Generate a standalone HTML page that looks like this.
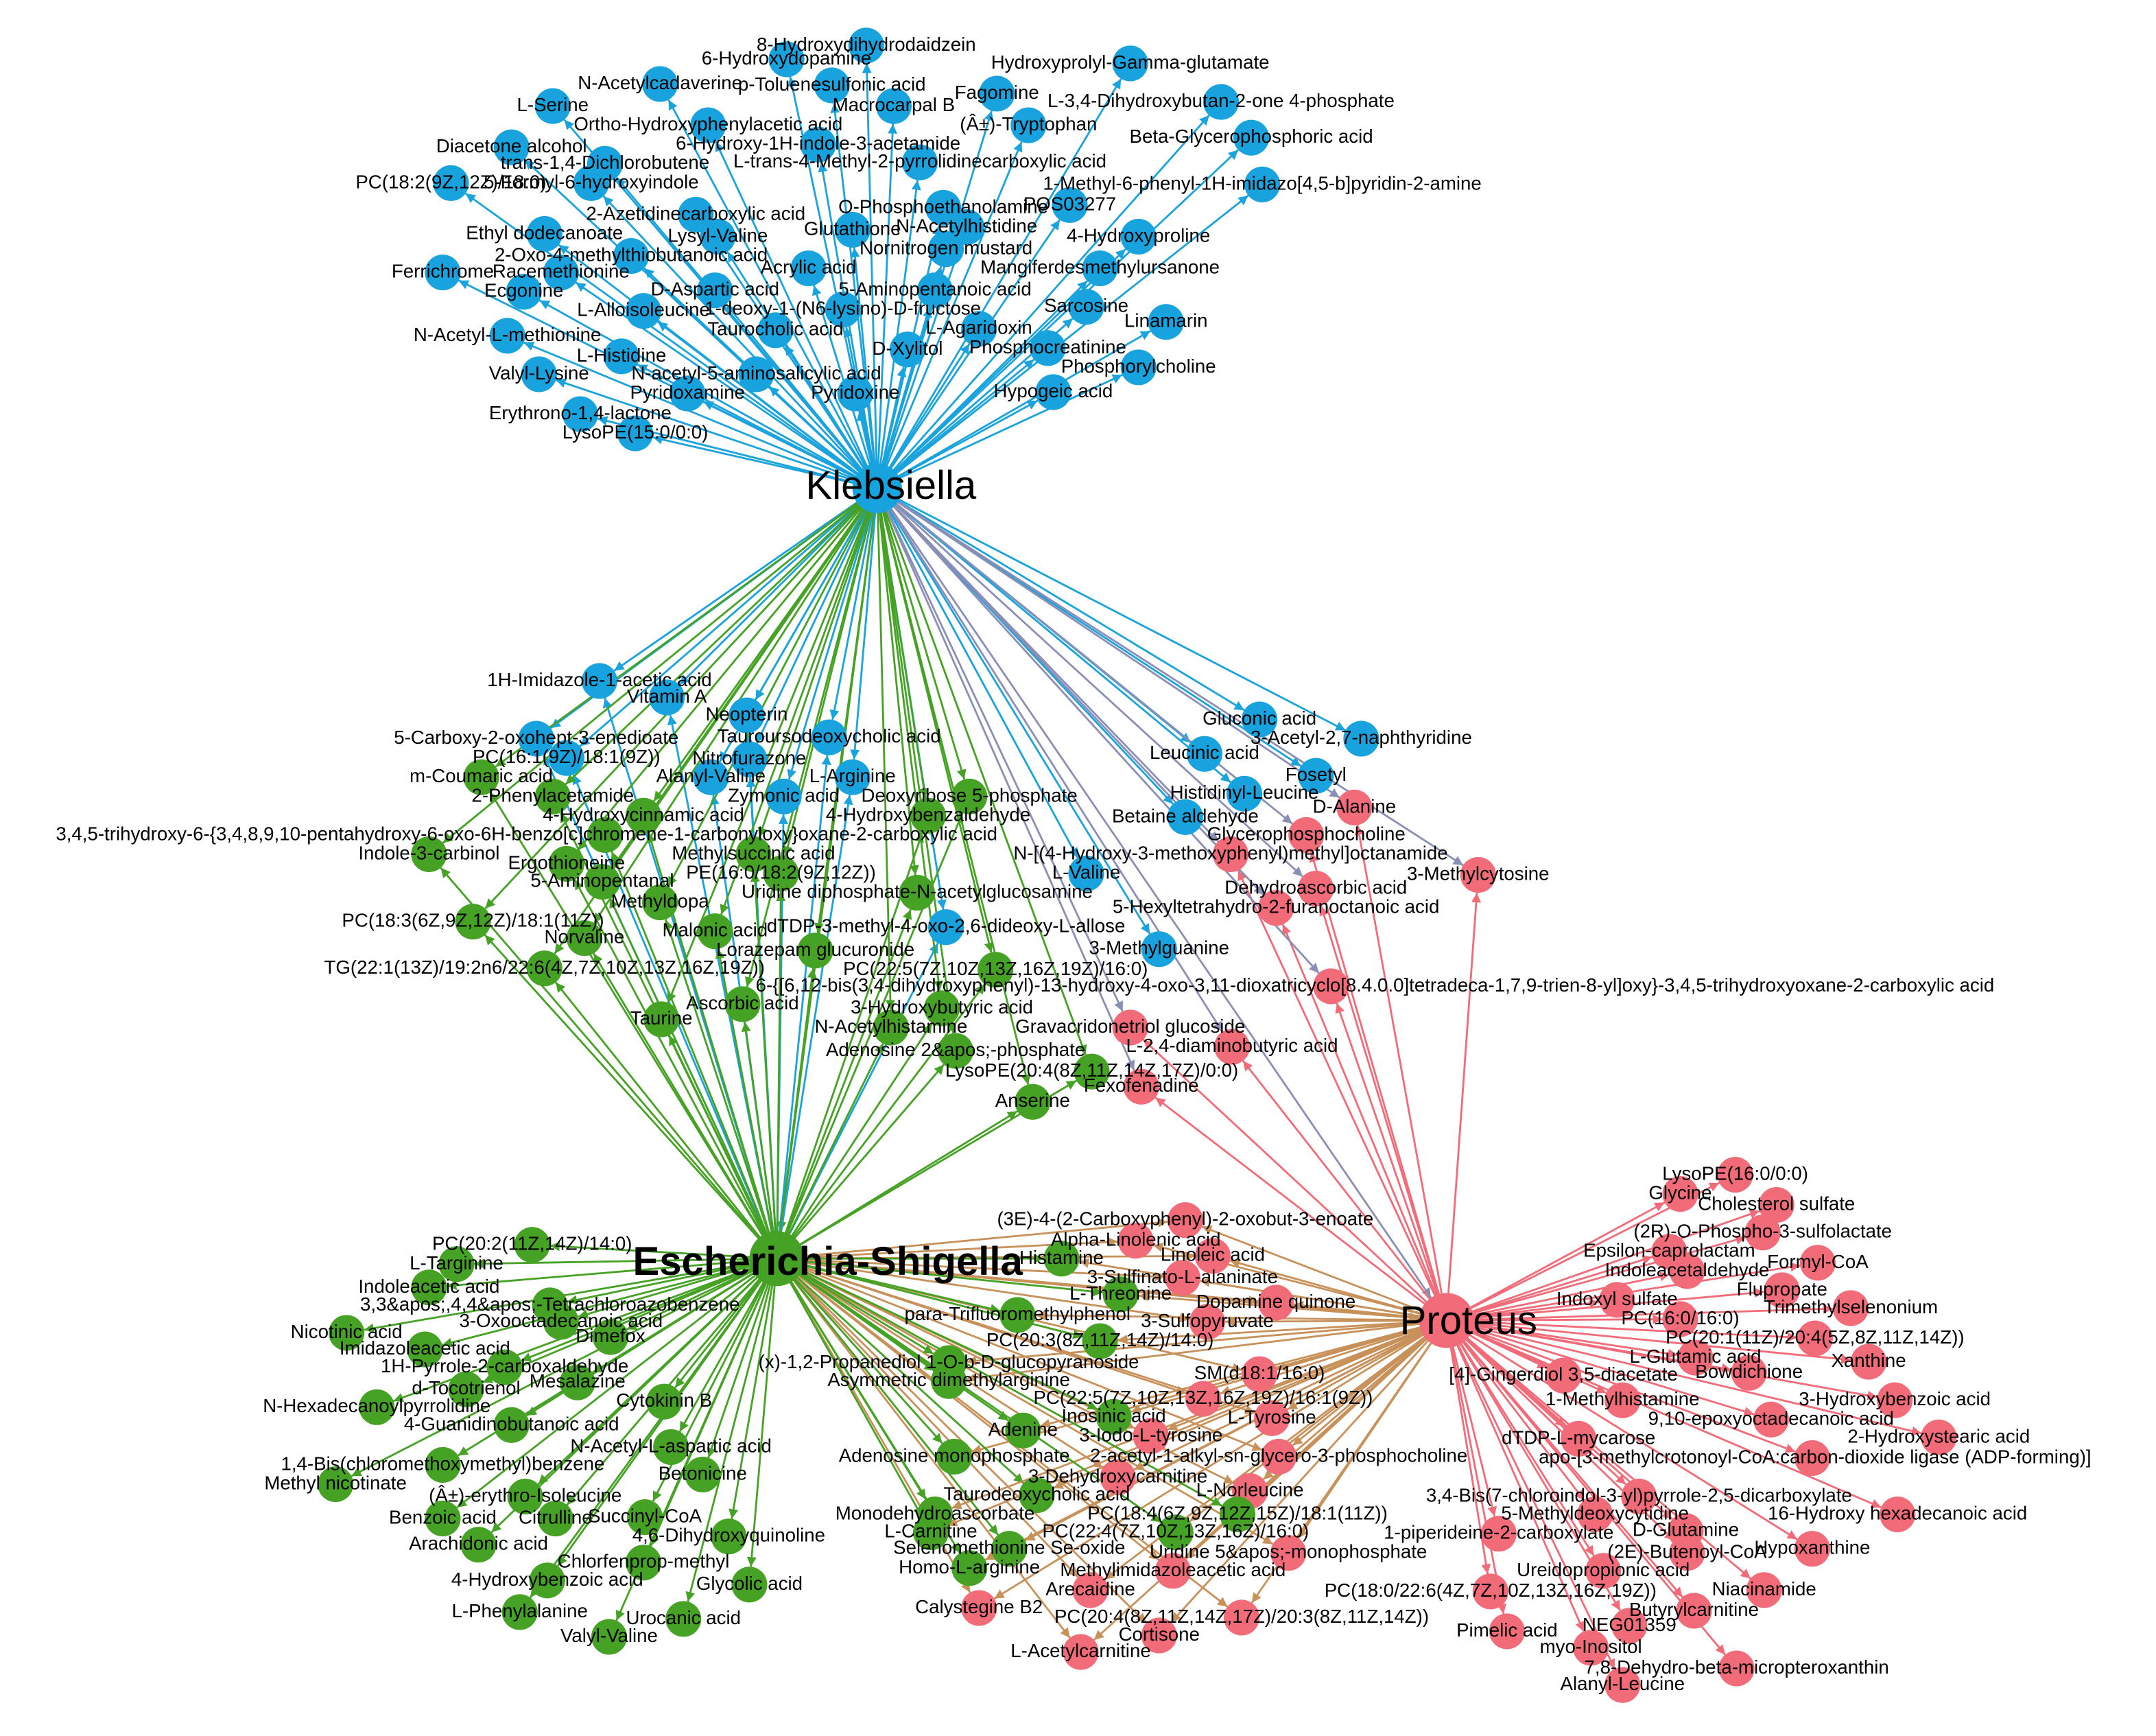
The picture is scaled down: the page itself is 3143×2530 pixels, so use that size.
<!DOCTYPE html>
<html><head><meta charset="utf-8"><style>
html,body{margin:0;padding:0;background:#fff}
svg{display:block}
text{font-family:"Liberation Sans",Arial,sans-serif;font-size:13.8px;fill:#000;text-anchor:middle;dominant-baseline:central}
</style></head><body>
<svg id="s" width="3143" height="2530" viewBox="0 0 1568 1262" xmlns="http://www.w3.org/2000/svg">
<defs>
<marker id="mb" viewBox="0 0 10 10" refX="10" refY="5" markerWidth="5" markerHeight="5" orient="auto"><path d="M0,0L10,5L0,10z" fill="#1aa3dc"/></marker>
<marker id="mg" viewBox="0 0 10 10" refX="10" refY="5" markerWidth="5" markerHeight="5" orient="auto"><path d="M0,0L10,5L0,10z" fill="#45a224"/></marker>
<marker id="mr" viewBox="0 0 10 10" refX="10" refY="5" markerWidth="5" markerHeight="5" orient="auto"><path d="M0,0L10,5L0,10z" fill="#f26b78"/></marker>
<marker id="mo" viewBox="0 0 10 10" refX="10" refY="5" markerWidth="5" markerHeight="5" orient="auto"><path d="M0,0L10,5L0,10z" fill="#c8915a"/></marker>
<marker id="mp" viewBox="0 0 10 10" refX="10" refY="5" markerWidth="5" markerHeight="5" orient="auto"><path d="M0,0L10,5L0,10z" fill="#8a8fb5"/></marker>
</defs>
<g id="E"></g><g id="N"></g><g id="T"></g>
</svg>
<script>
var K=[638,355],ES=[565,915],P=[1052,960];
var C={b:"#18a2de",g:"#45a224",r:"#f26b78"};
var EC={b:["#1aa3dc","mb"],g:["#45a224","mg"],r:["#f26b78","mr"],o:["#c8915a","mo"],p:["#8a8fb5","mp"]};
var groups=[
["b",[[K,"b"]],`630|32|8-Hydroxydihydrodaidzein
572|42|6-Hydroxydopamine
480|60|N-Acetylcadaverine
605|61|p-Toluenesulfonic acid
822|45|Hydroxyprolyl-Gamma-glutamate
725|67|Fagomine
888|73|L-3,4-Dihydroxybutan-2-one 4-phosphate
402|76|L-Serine
650|76|Macrocarpal B
515|90|Ortho-Hydroxyphenylacetic acid
748|90|(Â±)-Tryptophan
910|99|Beta-Glycerophosphoric acid
372|106|Diacetone alcohol
595|104|6-Hydroxy-1H-indole-3-acetamide
440|118|trans-1,4-Dichlorobutene
669|117|L-trans-4-Methyl-2-pyrrolidinecarboxylic acid
328|132|PC(18:2(9Z,12Z)/18:0)
430|132|5-Formyl-6-hydroxyindole
918|133|1-Methyl-6-phenyl-1H-imidazo[4,5-b]pyridin-2-amine
686|150|O-Phosphoethanolamine
778|148|POS03277
506|155|2-Azetidinecarboxylic acid
620|166|Glutathione
703|164|N-Acetylhistidine
396|169|Ethyl dodecanoate
522|171|Lysyl-Valine
688|180|Nornitrogen mustard
828|171|4-Hydroxyproline
459|185|2-Oxo-4-methylthiobutanoic acid
588|194|Acrylic acid
800|194|Mangiferdesmethylursanone
322|197|Ferrichrome
408|197|Racemethionine
381|211|Ecgonine
520|210|D-Aspartic acid
680|210|5-Aminopentanoic acid
468|225|L-Alloisoleucine
613|224|1-deoxy-1-(N6-lysino)-D-fructose
790|222|Sarcosine
848|233|Linamarin
564|239|Taurocholic acid
712|238|L-Agaridoxin
369|243|N-Acetyl-L-methionine
660|253|D-Xylitol
762|252|Phosphocreatinine
452|258|L-Histidine
828|266|Phosphorylcholine
392|271|Valyl-Lysine
550|271|N-acetyl-5-aminosalicylic acid
500|285|Pyridoxamine
622|285|Pyridoxine
766|284|Hypogeic acid
422|300|Erythrono-1,4-lactone
462|314|LysoPE(15:0/0:0)`],
["b",[[K,"b"],[ES,"b"]],`436|494|1H-Imidazole-1-acetic acid
485|506|Vitamin A
543|519|Neopterin
603|535|Tauroursodeoxycholic acid
390|536|5-Carboxy-2-oxohept-3-enedioate
412|550|PC(16:1(9Z)/18:1(9Z))
545|551|Nitrofurazone
517|564|Alanyl-Valine
620|564|L-Arginine
570|578|Zymonic acid
688|673|dTDP-3-methyl-4-oxo-2,6-dideoxy-L-allose`],
["b",[[K,"b"]],`916|522|Gluconic acid
990|536|3-Acetyl-2,7-naphthyridine
876|547|Leucinic acid
957|563|Fosetyl
905|576|Histidinyl-Leucine
862|593|Betaine aldehyde
790|634|L-Valine
843|689|3-Methylguanine`],
["g",[[ES,"g"],[K,"g"]],`350|564|m-Coumaric acid
402|578|2-Phenylacetamide
468|592|4-Hydroxycinnamic acid
705|578|Deoxyribose 5-phosphate
675|592|4-Hydroxybenzaldehyde
312|620|Indole-3-carbinol
412|627|Ergothioneine
438|640|5-Aminopentanal
568|634|PE(16:0/18:2(9Z,12Z))
667|648|Uridine diphosphate-N-acetylglucosamine
548|620|Methylsuccinic acid
480|655|Methyldopa
344|669|PC(18:3(6Z,9Z,12Z)/18:1(11Z))
425|681|Norvaline
520|676|Malonic acid
593|690|Lorazepam glucuronide
724|704|PC(22:5(7Z,10Z,13Z,16Z,19Z)/16:0)
396|703|TG(22:1(13Z)/19:2n6/22:6(4Z,7Z,10Z,13Z,16Z,19Z))
540|729|Ascorbic acid
685|732|3-Hydroxybutyric acid
481|740|Taurine
648|746|N-Acetylhistamine
695|763|Adenosine 2&apos;-phosphate
794|778|LysoPE(20:4(8Z,11Z,14Z,17Z)/0:0)
751|800|Anserine`],
["r",[[P,"r"],[K,"p"]],`985|586|D-Alanine
950|606|Glycerophosphocholine
895|620|N-[(4-Hydroxy-3-methoxyphenyl)methyl]octanamide
957|645|Dehydroascorbic acid
1075|635|3-Methylcytosine
928|659|5-Hexyltetrahydro-2-furanoctanoic acid
968|716|6-{[6,12-bis(3,4-dihydroxyphenyl)-13-hydroxy-4-oxo-3,11-dioxatricyclo[8.4.0.0]tetradeca-1,7,9-trien-8-yl]oxy}-3,4,5-trihydroxyoxane-2-carboxylic acid
822|746|Gravacridonetriol glucoside
896|760|L-2,4-diaminobutyric acid
830|789|Fexofenadine`],
["g",[[ES,"g"]],`387|904|PC(20:2(11Z,14Z)/14:0)
332|918|L-Targinine
312|935|Indoleacetic acid
400|948|3,3&apos;,4,4&apos;-Tetrachloroazobenzene
408|960|3-Oxooctadecanoic acid
252|968|Nicotinic acid
444|971|Dimefox
309|980|Imidazoleacetic acid
367|993|1H-Pyrrole-2-carboxaldehyde
420|1004|Mesalazine
339|1009|d-Tocotrienol
274|1022|N-Hexadecanoylpyrrolidine
483|1018|Cytokinin B
372|1035|4-Guanidinobutanoic acid
488|1051|N-Acetyl-L-aspartic acid
322|1064|1,4-Bis(chloromethoxymethyl)benzene
244|1078|Methyl nicotinate
511|1071|Betonicine
382|1087|(Â±)-erythro-Isoleucine
322|1103|Benzoic acid
404|1103|Citrulline
469|1102|Succinyl-CoA
530|1116|4,6-Dihydroxyquinoline
348|1122|Arachidonic acid
468|1135|Chlorfenprop-methyl
398|1148|4-Hydroxybenzoic acid
545|1151|Glycolic acid
378|1171|L-Phenylalanine
497|1176|Urocanic acid
443|1189|Valyl-Valine
310|606|3,4,5-trihydroxy-6-{3,4,8,9,10-pentahydroxy-6-oxo-6H-benzo[c]chromene-1-carbonyloxy}oxane-2-carboxylic acid`],
["r",[[ES,"o"],[P,"o"]],`862|886|(3E)-4-(2-Carboxyphenyl)-2-oxobut-3-enoate
826|901|Alpha-Linolenic acid
882|912|Linoleic acid
860|928|3-Sulfinato-L-alaninate
928|946|Dopamine quinone
878|960|3-Sulfopyruvate
916|998|SM(d18:1/16:0)
875|1016|PC(22:5(7Z,10Z,13Z,16Z,19Z)/16:1(9Z))
925|1030|L-Tyrosine
837|1043|3-Iodo-L-tyrosine
930|1058|2-acetyl-1-alkyl-sn-glycero-3-phosphocholine
813|1073|3-Dehydroxycarnitine
909|1083|L-Norleucine
937|1128|Uridine 5&apos;-monophosphate
853|1141|Methylimidazoleacetic acid
793|1155|Arecaidine
903|1175|PC(20:4(8Z,11Z,14Z,17Z)/20:3(8Z,11Z,14Z))
712|1168|Calystegine B2
843|1188|Cortisone
786|1200|L-Acetylcarnitine`],
["g",[[ES,"g"],[P,"o"]],`772|914|Histamine
815|940|L-Threonine
740|955|para-Trifluoromethylphenol
800|974|PC(20:3(8Z,11Z,14Z)/14:0)
690|990|(x)-1,2-Propanediol 1-O-b-D-glucopyranoside
690|1003|Asymmetric dimethylarginine
810|1029|Inosinic acid
744|1039|Adenine
694|1058|Adenosine monophosphate
754|1086|Taurodeoxycholic acid
680|1100|Monodehydroascorbate
677|1113|L-Carnitine
855|1113|PC(22:4(7Z,10Z,13Z,16Z)/16:0)
734|1125|Selenomethionine Se-oxide
705|1139|Homo-L-arginine
900|1100|PC(18:4(6Z,9Z,12Z,15Z)/18:1(11Z))`],
["r",[[P,"r"]],`1262|853|LysoPE(16:0/0:0)
1222|867|Glycine
1292|875|Cholesterol sulfate
1282|895|(2R)-O-Phospho-3-sulfolactate
1214|909|Epsilon-caprolactam
1227|923|Indoleacetaldehyde
1322|917|Formyl-CoA
1296|937|Flupropate
1176|944|Indoxyl sulfate
1346|950|Trimethylselenonium
1222|958|PC(16:0/16:0)
1320|972|PC(20:1(11Z)/20:4(5Z,8Z,11Z,14Z))
1233|986|L-Glutamic acid
1359|989|Xanthine
1137|999|[4]-Gingerdiol 3,5-diacetate
1272|997|Bowdichione
1180|1017|1-Methylhistamine
1378|1017|3-Hydroxybenzoic acid
1288|1031|9,10-epoxyoctadecanoic acid
1410|1044|2-Hydroxystearic acid
1148|1045|dTDP-L-mycarose
1322|1059|apo-[3-methylcrotonoyl-CoA:carbon-dioxide ligase (ADP-forming)]
1192|1087|3,4-Bis(7-chloroindol-3-yl)pyrrole-2,5-dicarboxylate
1160|1100|5-Methyldeoxycytidine
1380|1100|16-Hydroxy hexadecanoic acid
1090|1114|1-piperideine-2-carboxylate
1226|1112|D-Glutamine
1318|1125|Hypoxanthine
1166|1141|Ureidopropionic acid
1227|1128|(2E)-Butenoyl-CoA
1283|1155|Niacinamide
1084|1156|PC(18:0/22:6(4Z,7Z,10Z,13Z,16Z,19Z))
1232|1170|Butyrylcarnitine
1096|1185|Pimelic acid
1185|1181|NEG01359
1157|1197|myo-Inositol
1263|1212|7,8-Dehydro-beta-micropteroxanthin
1180|1224|Alanyl-Leucine`]
];
var NS="http://www.w3.org/2000/svg";
function el(p,t,a,txt){var e=document.createElementNS(NS,t);for(var k in a)e.setAttribute(k,a[k]);if(txt!=null)e.textContent=txt;document.getElementById(p).appendChild(e);return e;}
var R=13;
[[K,P,"p"],[K,ES,"g"],[ES,P,"o"]].forEach(function(h){var dx=h[1][0]-h[0][0],dy=h[1][1]-h[0][1],d=Math.hypot(dx,dy);el("E","line",{x1:h[0][0],y1:h[0][1],x2:h[1][0]-dx/d*20,y2:h[1][1]-dy/d*20,stroke:EC[h[2]][0],"stroke-width":1.4,"marker-end":"url(#"+EC[h[2]][1]+")"});});
groups.forEach(function(g){
 g[2].split("\n").forEach(function(l){
  var p=l.split("|"),x=+p[0],y=+p[1],lab=p.slice(2).join("|");
  var longG=lab.indexOf("3,4,5-trihydroxy-6-{3,4,8")==0, longR=lab.indexOf("6-{[6,12-bis")==0, apo=lab.indexOf("apo-[")==0;
  var cx=x,cy=y+1;
  if(longG)cx=440;
  if(apo)cx=1318;
  g[1].forEach(function(h){var hb=h[0],dx=cx-hb[0],dy=cy-hb[1],d=Math.hypot(dx,dy)||1;
   el("E","line",{x1:hb[0],y1:hb[1],x2:(cx-dx/d*R).toFixed(1),y2:(cy-dy/d*R).toFixed(1),stroke:EC[h[1]][0],"stroke-width":1.4,"marker-end":"url(#"+EC[h[1]][1]+")"});});
  el("N","circle",{cx:cx,cy:cy,r:R,fill:C[g[0]]});
  var tx=x; if(longG)tx=383; if(longR)tx=1000; if(apo)tx=1320;
  el("T","text",{x:tx,y:y},lab);
 });
});
el("N","circle",{cx:K[0],cy:K[1],r:18,fill:C.b});
el("N","circle",{cx:ES[0],cy:ES[1],r:20,fill:C.g});
el("N","circle",{cx:P[0],cy:P[1],r:20,fill:C.r});
el("T","text",{x:648,y:353,style:"font-size:29px"},"Klebsiella");
el("T","text",{x:602,y:917,style:"font-size:29px;font-weight:bold"},"Escherichia-Shigella");
el("T","text",{x:1068,y:960,style:"font-size:29px"},"Proteus");
</script>
</body></html>
